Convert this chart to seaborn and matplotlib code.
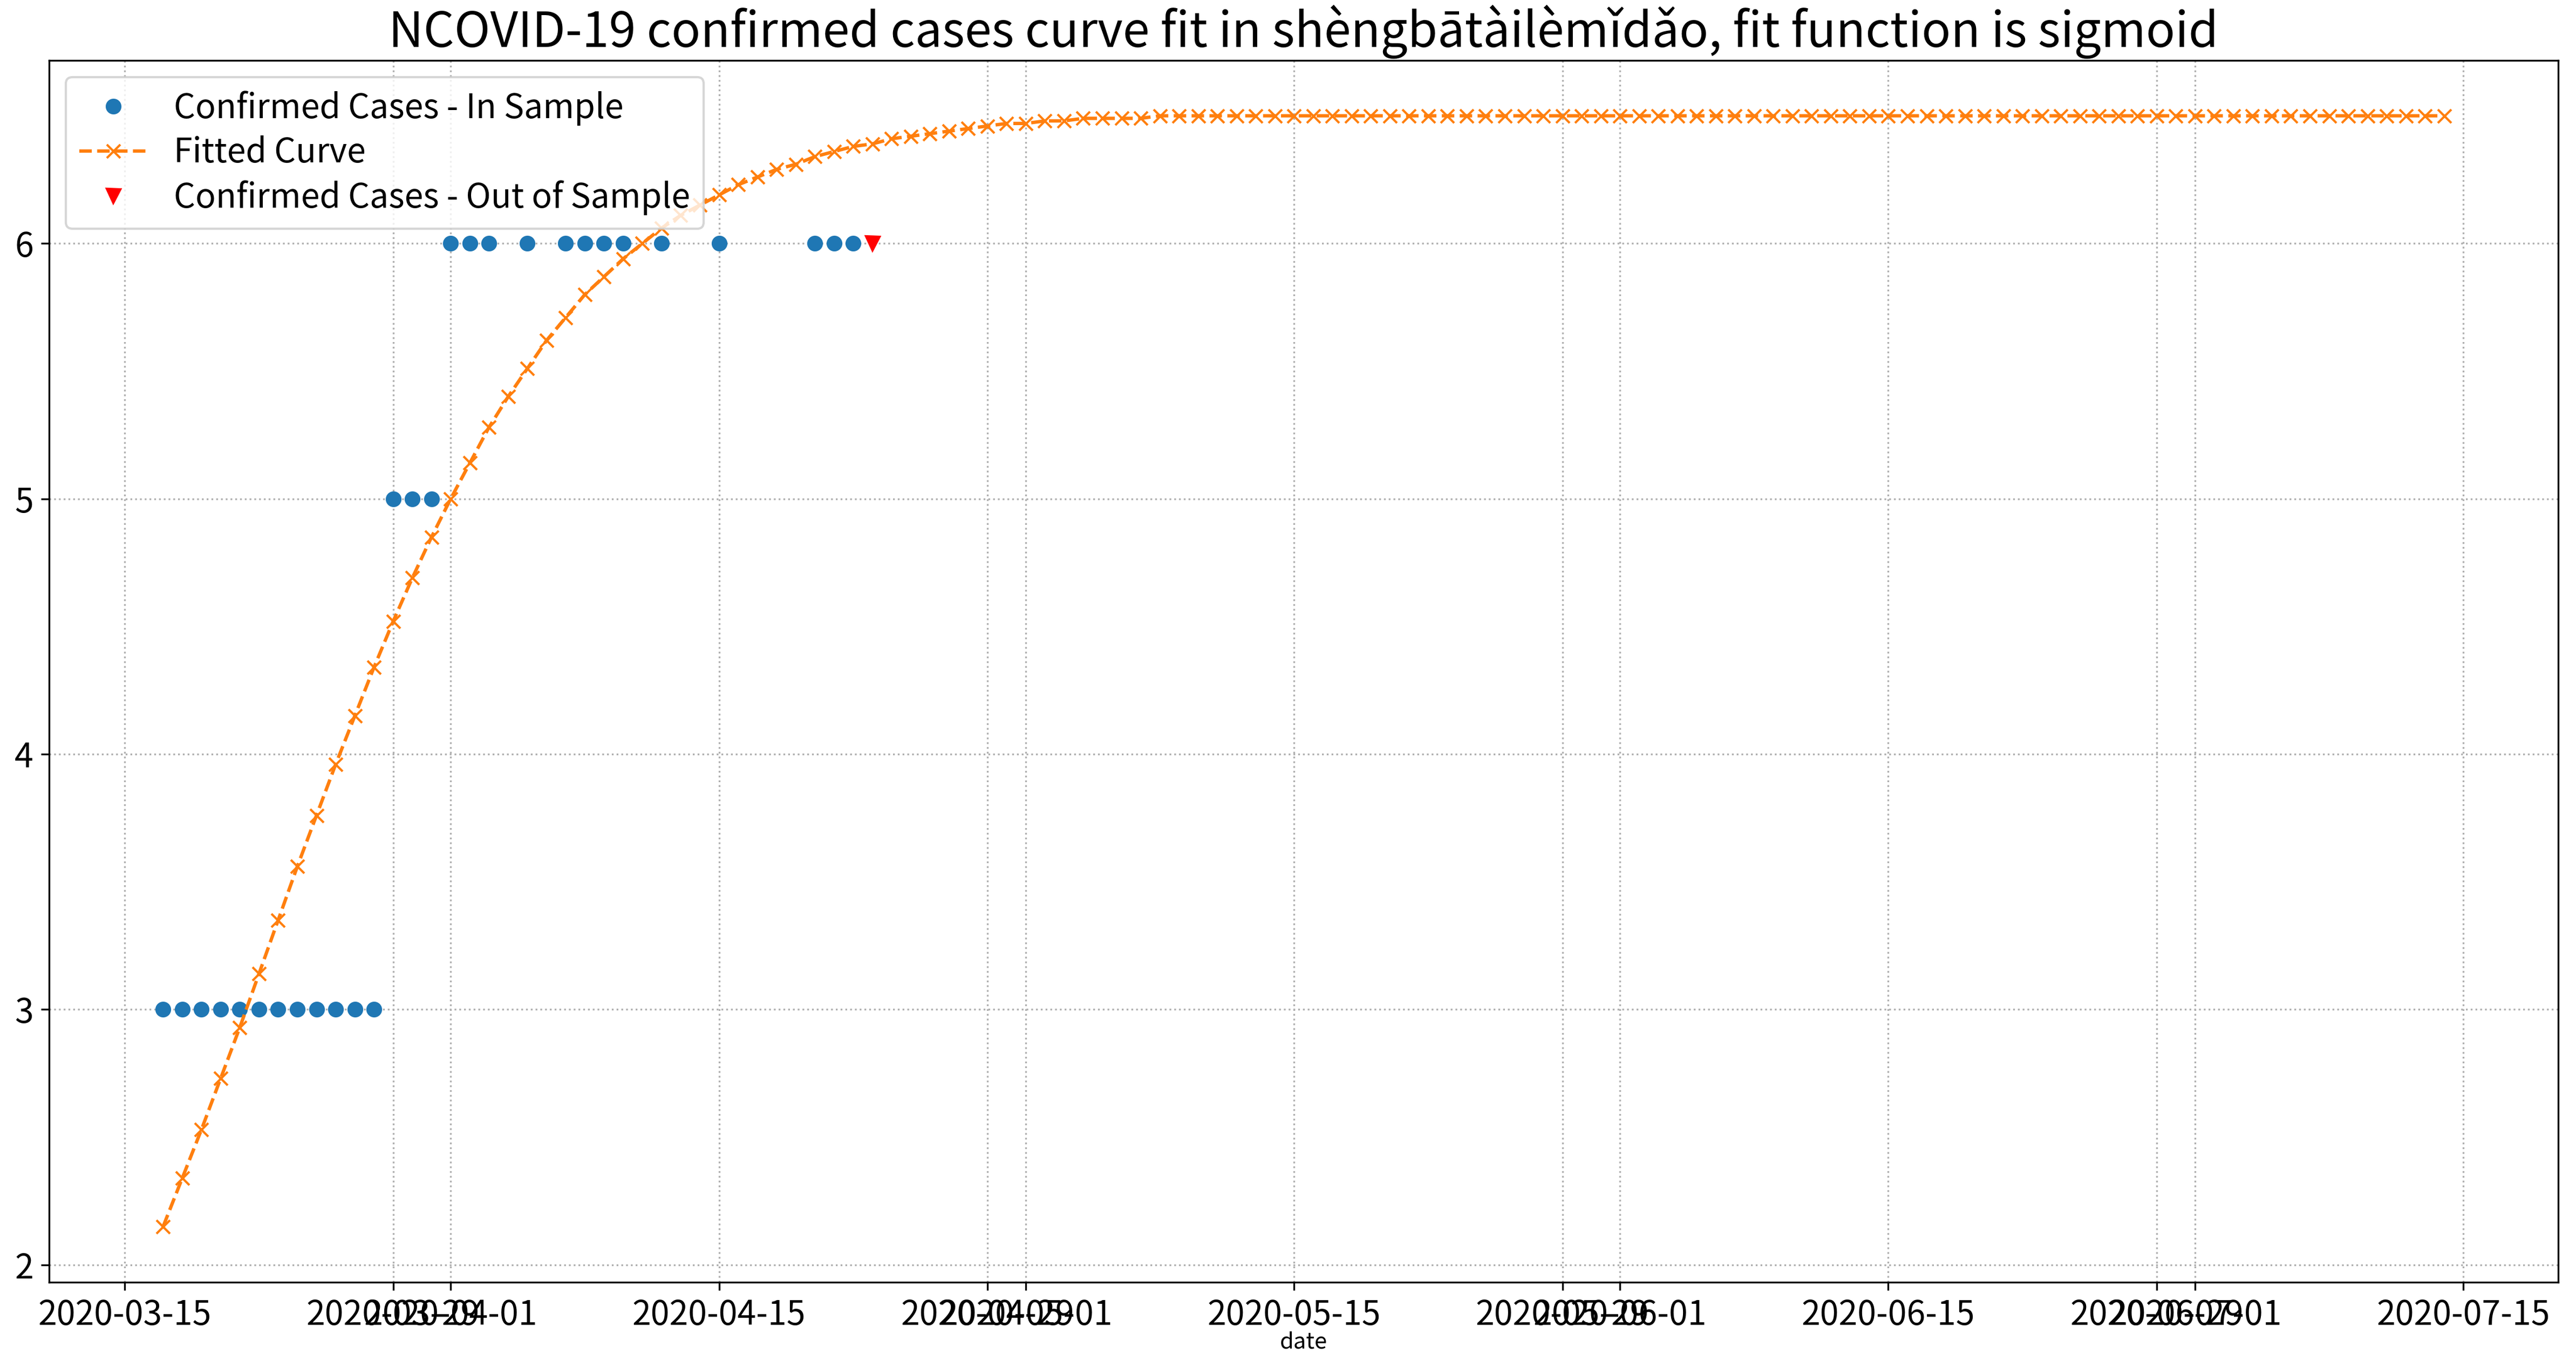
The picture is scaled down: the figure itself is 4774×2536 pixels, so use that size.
import numpy as np
import pandas as pd
import matplotlib
matplotlib.use('Agg')
import matplotlib.pyplot as plt
import matplotlib.dates as mdates
import seaborn as sns

plt.rcParams['font.family'] = ['Noto Sans CJK SC', 'DejaVu Sans']
plt.rcParams['axes.unicode_minus'] = False

# in-sample confirmed cases
in_dates = ['2020-03-17', '2020-03-18', '2020-03-19', '2020-03-20', '2020-03-21', '2020-03-22',
            '2020-03-23', '2020-03-24', '2020-03-25', '2020-03-26', '2020-03-27', '2020-03-28',
            '2020-03-29', '2020-03-30', '2020-03-31',
            '2020-04-01', '2020-04-02', '2020-04-03', '2020-04-05', '2020-04-07', '2020-04-08',
            '2020-04-09', '2020-04-10', '2020-04-12', '2020-04-15', '2020-04-20', '2020-04-21',
            '2020-04-22']
in_cases = [3, 3, 3, 3, 3, 3, 3, 3, 3, 3, 3, 3,
            5, 5, 5,
            6, 6, 6, 6, 6, 6, 6, 6, 6, 6, 6, 6, 6]

# out-of-sample confirmed cases
out_dates = ['2020-04-23']
out_cases = [6]

# fitted sigmoid, one value per day from 2020-03-17 to 2020-07-14
fit_start = '2020-03-17'
fit_values = [2.15, 2.34, 2.53, 2.73, 2.93, 3.14, 3.35, 3.56, 3.76, 3.96,
              4.15, 4.34, 4.52, 4.69, 4.85, 5.00, 5.14, 5.28, 5.40, 5.51,
              5.62, 5.71, 5.80, 5.87, 5.94, 6.00, 6.06, 6.11, 6.15, 6.19,
              6.23, 6.26, 6.29, 6.31, 6.34, 6.36, 6.38, 6.39, 6.41, 6.42,
              6.43, 6.44, 6.45, 6.46, 6.47, 6.47, 6.48, 6.48, 6.49, 6.49,
              6.49, 6.49, 6.50, 6.50, 6.50, 6.50, 6.50, 6.50, 6.50, 6.50,
              6.50, 6.50, 6.50, 6.50, 6.50, 6.50, 6.50, 6.50, 6.50, 6.50,
              6.50, 6.50, 6.50, 6.50, 6.50, 6.50, 6.50, 6.50, 6.50, 6.50,
              6.50, 6.50, 6.50, 6.50, 6.50, 6.50, 6.50, 6.50, 6.50, 6.50,
              6.50, 6.50, 6.50, 6.50, 6.50, 6.50, 6.50, 6.50, 6.50, 6.50,
              6.50, 6.50, 6.50, 6.50, 6.50, 6.50, 6.50, 6.50, 6.50, 6.50,
              6.50, 6.50, 6.50, 6.50, 6.50, 6.50, 6.50, 6.50, 6.50, 6.50]

df_in = pd.DataFrame({'date': pd.to_datetime(in_dates), 'cases': in_cases})
df_out = pd.DataFrame({'date': pd.to_datetime(out_dates), 'cases': out_cases})
df_fit = pd.DataFrame({'date': pd.date_range(fit_start, periods=len(fit_values), freq='D'),
                       'cases': fit_values})

fig = plt.figure(figsize=(4774 / 300, 2536 / 300), dpi=300)
ax = fig.add_axes([0.01906, 0.06282, 0.97403, 0.89313])

sns.lineplot(data=df_in, x='date', y='cases', ax=ax, color='C0', marker='o', linestyle='',
             markeredgecolor='C0', markeredgewidth=1, markersize=6,
             label='Confirmed Cases - In Sample')
sns.lineplot(data=df_fit, x='date', y='cases', ax=ax, color='C1', marker='x', linestyle='--',
             markeredgecolor='C1', markeredgewidth=1, markersize=6, linewidth=1.5,
             label='Fitted Curve')
sns.lineplot(data=df_out, x='date', y='cases', ax=ax, color='red', marker='v', linestyle='',
             markeredgecolor='red', markeredgewidth=1, markersize=6,
             label='Confirmed Cases - Out of Sample')

# old-style date ticks on the 1st, 15th and 29th (they overlap, as in the original)
ax.xaxis.set_major_locator(mdates.DayLocator(bymonthday=[1, 15, 29]))
ax.xaxis.set_major_formatter(mdates.DateFormatter('%Y-%m-%d'))

ax.grid(True, linestyle=':')
ax.set_ylabel('')
ax.set_xlabel('date', fontsize=10, labelpad=-0.5)
ax.tick_params(labelsize=15)
ax.set_title('NCOVID-19 confirmed cases curve fit in shèngbātàilèmǐdǎo, fit function is sigmoid',
             fontsize=21.5)
ax.legend(loc='upper left', fontsize=15, labelspacing=0.3)

fig.savefig('out.png', dpi=300)
